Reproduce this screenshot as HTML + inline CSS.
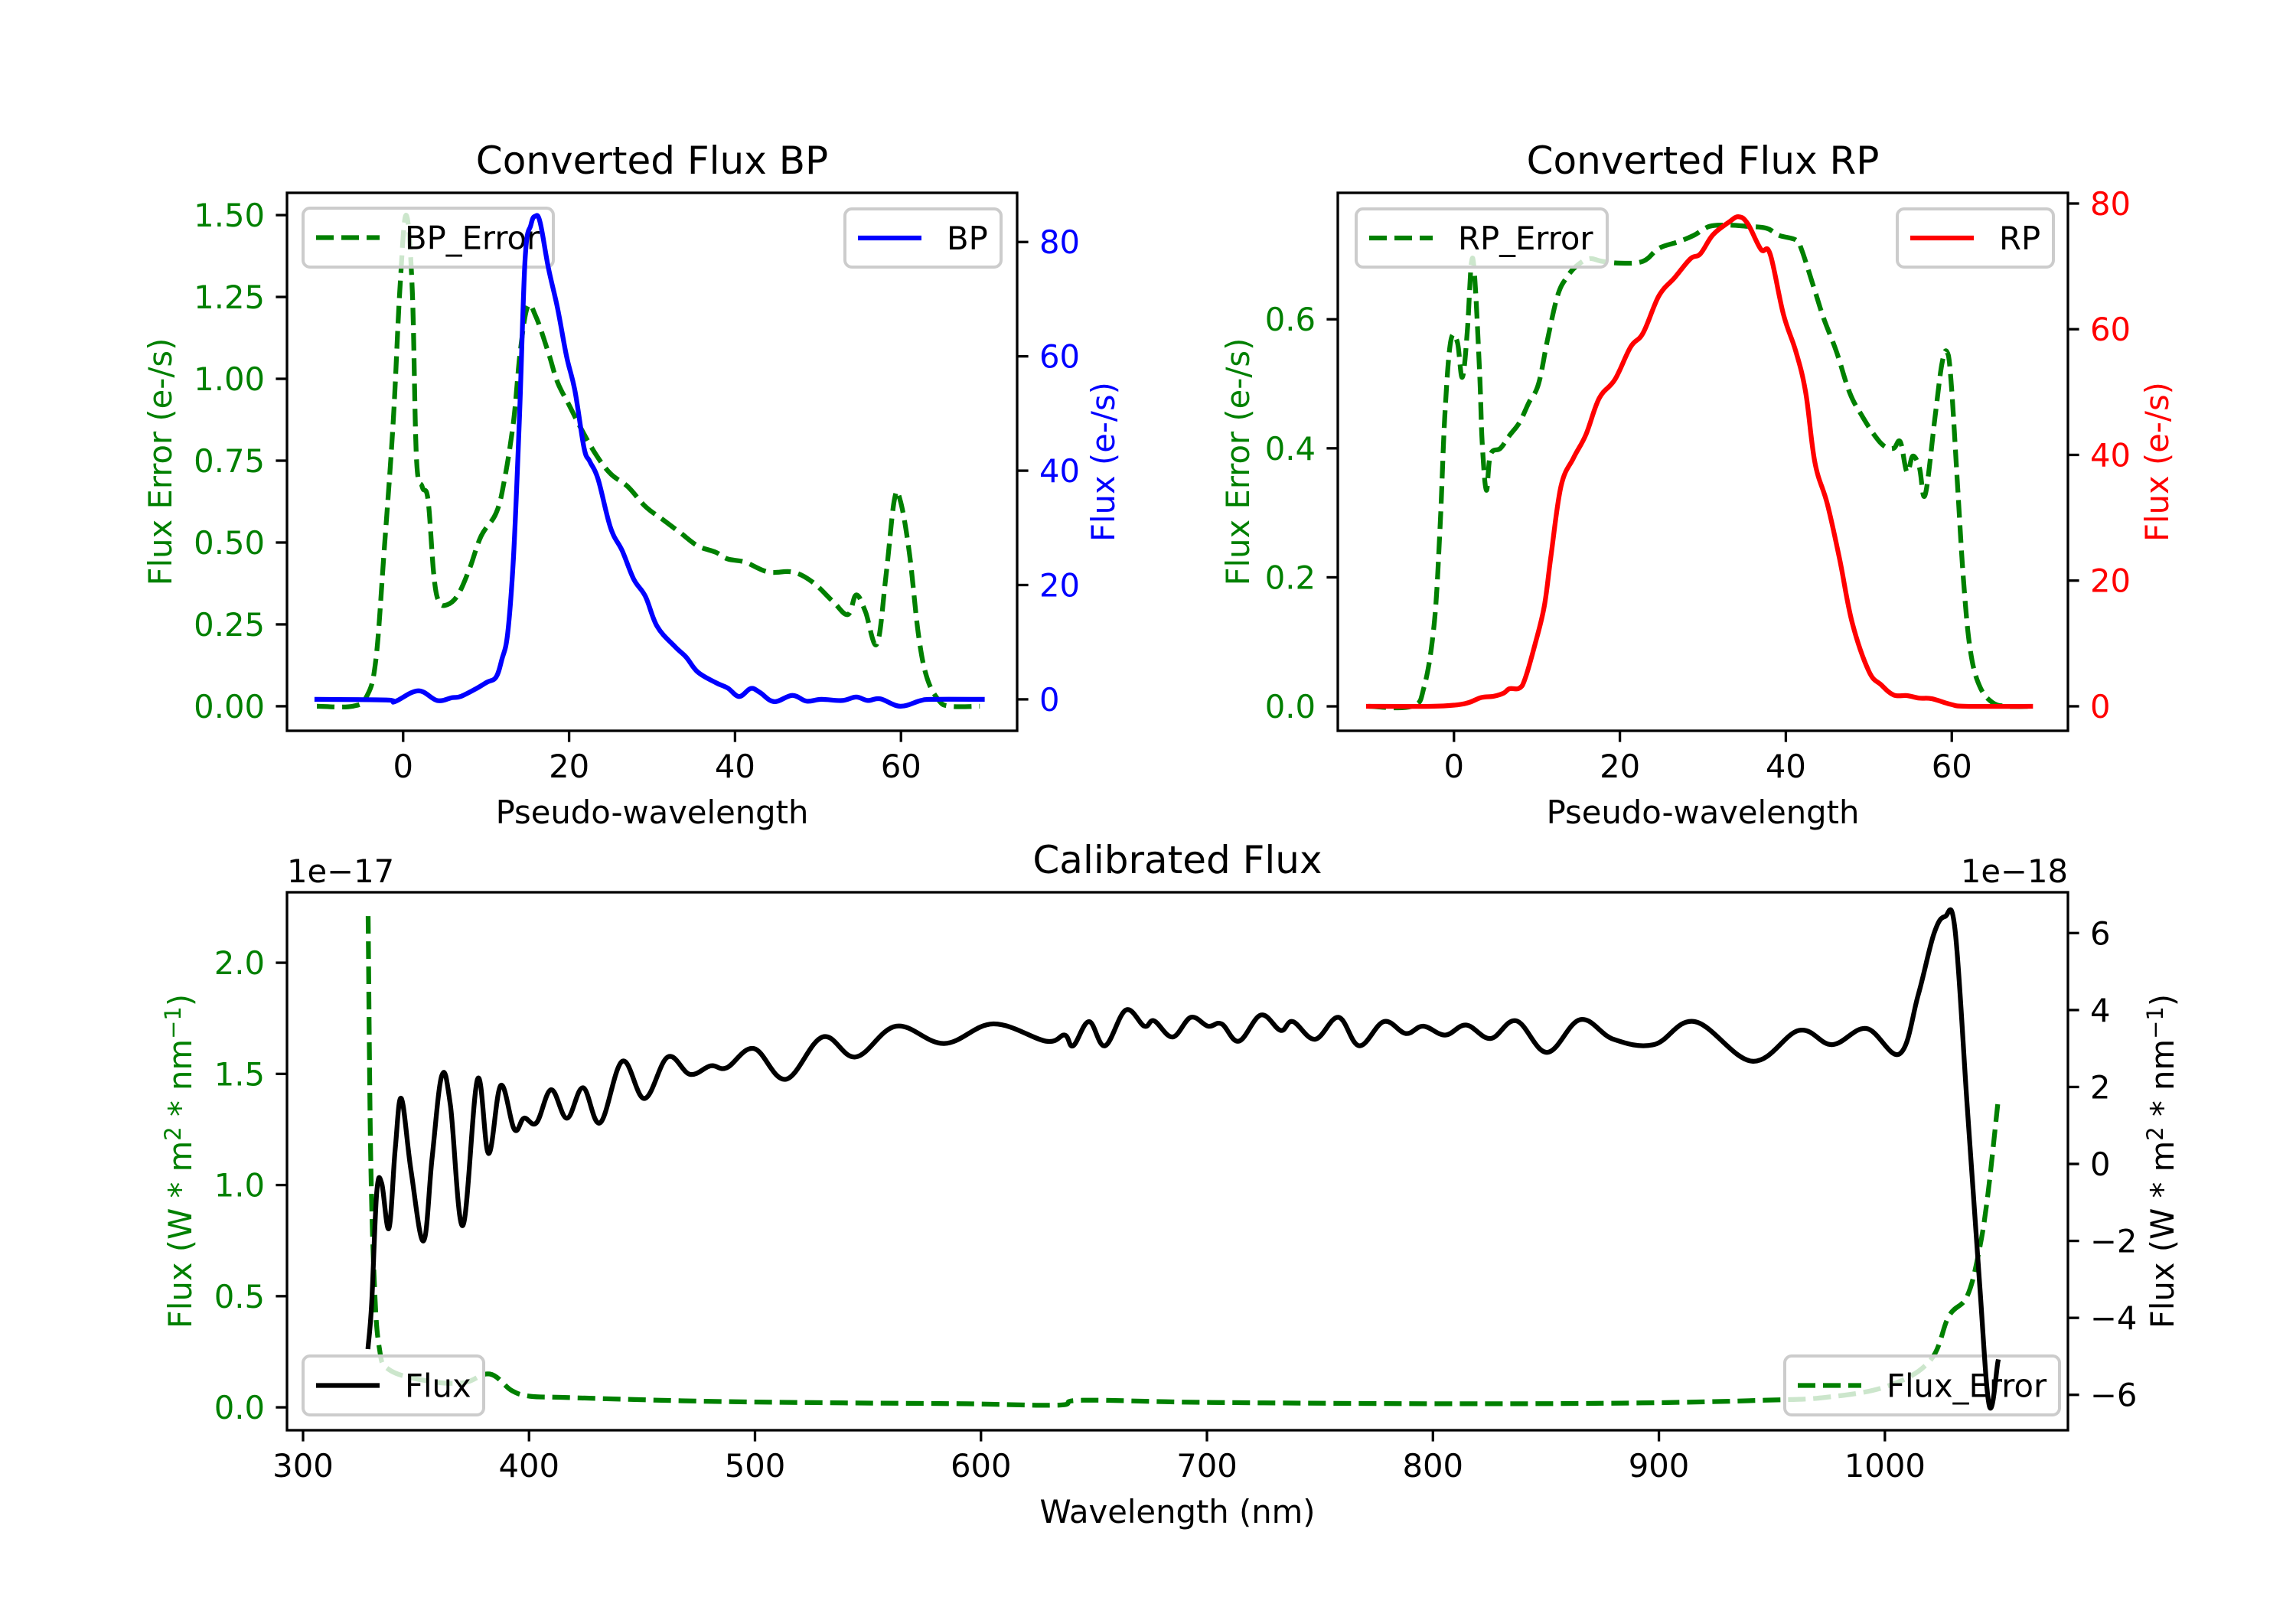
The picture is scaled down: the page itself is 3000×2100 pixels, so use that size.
<!DOCTYPE html>
<html><head><meta charset="utf-8"><style>
html,body{margin:0;padding:0;background:#fff;}
svg{display:block;font-family:"DejaVu Sans","Liberation Sans",sans-serif;}
</style></head>
<body>
<svg id="fig" width="3000" height="2100" viewBox="0 0 3000 2100" xmlns="http://www.w3.org/2000/svg">
<rect x="0" y="0" width="3000" height="2100" fill="#fff"/>
</svg>
<script>
// ---------- data ----------
const bpX = [-10.4,-2,-1,1.8,4.1,5.9,6.9,8.7,10.1,11.2,11.9,12.6,13.3,14,14.7,15.4,15.9,16.5,17.5,18.6,19.7,20.7,21.8,22.5,23.5,25,26.4,27.8,29.2,30.6,32.7,34.1,35.5,37.7,39.1,40.5,41.9,43,44.7,46.9,48.6,50.4,52.9,54.6,56,57.5,59.9,62.4,63.8,69.8];
const bpFlux = [0,-0.1,-0.4,1.5,-0.2,0.3,0.5,1.8,3,3.9,7,11.6,25,48.5,77,83,84.5,83.5,75.5,68.5,60,54,44,41.6,38.5,30,26,21,18,12.8,9.3,7.4,4.8,2.9,2,0.5,1.9,1.2,-0.4,0.7,-0.3,0,-0.2,0.4,-0.2,0.1,-1.2,-0.2,0,0];
const bpErrX = [-10.4,-6.1,-4.4,-3.3,-2.3,-1.2,-0.4,0.35,1.1,1.6,2.3,3,3.7,4.3,5.3,6.6,8,9.4,11.2,12.2,13.3,14.1,15,16,17.5,18.6,20,21.4,23.2,25,27.1,29.2,31.3,33.4,35.5,37.7,39.1,41.2,44,46.9,49.3,51.8,53.6,54.6,55.7,57.1,58.2,59.2,59.9,61,62.1,63.1,64.5,65.9,69.5];
const bpErr = [0,0,0.03,0.14,0.47,0.87,1.27,1.5,1.27,0.76,0.67,0.63,0.4,0.32,0.31,0.34,0.42,0.52,0.59,0.69,0.87,1.08,1.22,1.19,1.08,0.99,0.92,0.85,0.77,0.71,0.67,0.61,0.57,0.53,0.49,0.47,0.45,0.44,0.41,0.41,0.38,0.32,0.28,0.34,0.29,0.19,0.40,0.63,0.63,0.47,0.22,0.09,0.02,0,0];
const rpX = [-10.3,-2.8,0.2,1.8,3.3,4.8,6,6.7,7.9,8.6,9.8,10.9,11.7,12.9,14.4,15.9,17.5,19.4,21.3,22.8,24.7,26.6,28.5,29.7,31.2,33.1,34.3,35.4,37,38.1,39.7,41.2,42.4,43.5,45,46.5,48,50,51.5,53,54.6,56.1,57.6,59.9,61.8,69.5];
const rpFlux = [0,0,0.2,0.6,1.4,1.6,2.1,2.8,2.9,4.5,10,16,24,35,39.5,43.2,49,52,57.2,59.4,65.3,68.2,71.2,72,75,77,77.9,76.8,72.7,72,62.4,56.5,49.9,38.8,32.2,23.3,13.3,5.6,3.4,1.8,1.7,1.3,1.2,0.3,0,0];
const rpErrX = [-10.3,-5.1,-3.6,-2.4,-1.7,-1.1,-0.4,0.4,1,1.6,2.1,2.5,3.1,3.4,3.9,4.4,5.6,6.7,7.9,9,10.2,11.3,12.5,13.6,14.8,16.3,17.8,20.1,22.8,24.7,27,28.9,30.8,33.1,35.4,37.7,39.2,41.2,41.9,43.5,44.6,46.1,47.7,49.2,50.7,51.9,53,53.8,54.6,55.3,56.1,56.8,58,58.8,59.4,59.9,60.7,61.4,62.2,63.3,64.9,66.8,69.5];
const rpErr = [0,0,0.03,0.126,0.27,0.45,0.565,0.565,0.51,0.58,0.687,0.665,0.515,0.41,0.335,0.39,0.4,0.42,0.44,0.47,0.5,0.57,0.637,0.665,0.683,0.694,0.69,0.687,0.69,0.71,0.72,0.73,0.744,0.746,0.744,0.741,0.73,0.723,0.708,0.644,0.6,0.55,0.486,0.45,0.42,0.403,0.4,0.41,0.363,0.388,0.37,0.328,0.45,0.53,0.55,0.507,0.342,0.198,0.09,0.033,0.006,0,0];
const wlX = [328.8,330.4,332.6,334.8,338,340.8,343.5,347.8,353.3,357.1,361.4,365.2,370.7,377.2,382.1,387.5,393.5,397.8,403.3,409.8,416.8,423.9,431.5,441.3,451.1,461.4,471.2,480.4,487.5,499.5,513.6,529.9,544.6,562.5,583.7,605.4,628.8,637,640.8,647.8,654.9,664.1,672.3,676.6,684.8,692.9,700.5,706.5,714.1,723.9,732.6,738,747.8,758.2,767.4,778.3,788,795.7,805.4,814.7,825.5,836.9,850.5,865.2,879.9,897.8,915.8,941.3,962,976.6,991.8,1006.5,1014.7,1021.7,1026.6,1031,1036.4,1041.8,1046.2,1050];
const calFlux = [-4.75,-3.6,-0.75,-0.5,-1.67,0.39,1.7,-0.18,-2.0,0.16,2.3,1.53,-1.6,2.2,0.27,2.04,0.9,1.19,1.07,1.93,1.19,1.98,1.07,2.67,1.7,2.78,2.33,2.55,2.5,3.0,2.2,3.3,2.78,3.58,3.13,3.64,3.19,3.35,3.07,3.7,3.07,4.0,3.58,3.72,3.3,3.81,3.58,3.64,3.19,3.87,3.47,3.7,3.24,3.81,3.07,3.7,3.39,3.58,3.35,3.61,3.26,3.72,2.9,3.75,3.24,3.1,3.7,2.67,3.47,3.1,3.52,2.86,4.38,5.98,6.43,6.1,1.53,-3.03,-6.28,-5.14];
const wlErrX = [328.8,329.9,331.5,333.7,338,354.3,370.7,382.6,392.4,400.5,414.1,446.7,484.8,539.1,593.5,634.2,645.1,702.2,810.9,892.4,946.7,973.9,1001,1020,1028.3,1036.4,1041.8,1045.6,1050];
const calErr = [2.21,1.16,0.57,0.27,0.17,0.12,0.11,0.15,0.075,0.05,0.045,0.035,0.026,0.02,0.016,0.01,0.032,0.022,0.016,0.02,0.032,0.045,0.095,0.21,0.41,0.5,0.71,0.96,1.37];
const bpXTicks = [0,20,40,60];
const bpLeftTicks = [0,0.25,0.5,0.75,1.0,1.25,1.5];
const bpLeftLabels = ["0.00","0.25","0.50","0.75","1.00","1.25","1.50"];
const fluxRightTicks = [0,20,40,60,80];
const rpLeftTicks = [0,0.2,0.4,0.6];
const rpLeftLabels = ["0.0","0.2","0.4","0.6"];
const wlTicks = [300,400,500,600,700,800,900,1000];
const calLeftTicks = [0,0.5,1.0,1.5,2.0];
const calLeftLabels = ["0.0","0.5","1.0","1.5","2.0"];
const calRightTicks = [-6,-4,-2,0,2,4,6];
const calRightLabels = ["\u22126","\u22124","\u22122","0","2","4","6"];

// ---------- drawing ----------
const NS = "http://www.w3.org/2000/svg";
const fig = document.getElementById('fig');
function el(tag, attrs, parent){
  const e = document.createElementNS(NS, tag);
  for (const k in attrs) e.setAttribute(k, attrs[k]);
  (parent||fig).appendChild(e);
  return e;
}
const FS = 41.7;
function lin(d0,d1,p0,p1){return v => p0 + (v-d0)*(p1-p0)/(d1-d0);}

function smoothPath(P){
  let d = 'M' + P[0][0].toFixed(1) + ',' + P[0][1].toFixed(1);
  const t = 0.18;
  for (let i=0;i<P.length-1;i++){
    const p0 = P[Math.max(0,i-1)], p1 = P[i], p2 = P[i+1], p3 = P[Math.min(P.length-1,i+2)];
    const c1x = p1[0] + (p2[0]-p0[0])*t, c1y = p1[1] + (p2[1]-p0[1])*t;
    const c2x = p2[0] - (p3[0]-p1[0])*t, c2y = p2[1] - (p3[1]-p1[1])*t;
    d += ' C' + c1x.toFixed(1)+','+c1y.toFixed(1)+' '+c2x.toFixed(1)+','+c2y.toFixed(1)+' '+p2[0].toFixed(1)+','+p2[1].toFixed(1);
  }
  return d;
}
function series(xs, ys, sx, sy, color, dashed, name){
  const P = xs.map((x,i)=>[sx(x), sy(ys[i])]);
  const p = el('path',{d:smoothPath(P),fill:'none',stroke:color,'stroke-width':6.25,'stroke-linejoin':'round','stroke-linecap': dashed?'butt':'square'});
  if (dashed) p.setAttribute('stroke-dasharray','23 10');
  
  
  return p;
}
function legend(x, y, w, h, label, color, dashed, name){
  const g = el('g',{});
  
  
  el('rect',{x:x,y:y,width:w,height:h,rx:9,fill:'#fff','fill-opacity':0.8,stroke:'#cccccc','stroke-width':4},g);
  const ly = y + h/2;
  const l = el('line',{x1:x+17,y1:ly,x2:x+100,y2:ly,stroke:color,'stroke-width':6.25},g);
  if (dashed) l.setAttribute('stroke-dasharray','23 10');
  const t = el('text',{x:x+133,y:ly+15,'font-size':FS,fill:'#000'},g);
  t.textContent = label;
  return g;
}
function text(x,y,str,opts,name){
  const t = el('text',Object.assign({x:x,y:y,'font-size':FS,fill:'#000'},opts||{}));
  t.textContent = str;
  
  
  return t;
}
function xTicks(ticks, labels, sx, bottom, name){
  ticks.forEach((v,i)=>{
    const x = sx(v);
    el('line',{x1:x,y1:bottom,x2:x,y2:bottom+14.6,stroke:'#000','stroke-width':3.3});
    text(x, bottom+29+32, labels[i], {'text-anchor':'middle'}, name+'-'+labels[i]);
  });
}
function yTicks(ticks, labels, sy, xEdge, side, color, name){
  ticks.forEach((v,i)=>{
    const y = sy(v);
    const dir = side==='left'?-1:1;
    el('line',{x1:xEdge,y1:y,x2:xEdge+dir*14.6,y2:y,stroke:'#000','stroke-width':3.3});
    text(xEdge+dir*29, y+15, labels[i], {'text-anchor': side==='left'?'end':'start', fill:color}, name+'-'+labels[i]);
  });
}
function frame(l,t,r,b,name){
  const f = el('rect',{x:l,y:t,width:r-l,height:b-t,fill:'none',stroke:'#000','stroke-width':3.3});
  
  
}
function vlabel(x,y,str,color,name,html){
  const t = el('text',{x:0,y:0,'font-size':FS,fill:color,'text-anchor':'middle',transform:`translate(${x},${y}) rotate(-90)`});
  if (html) t.innerHTML = html; else t.textContent = str;
  
  
}

// Panel 1: BP
(function(){
  const L=375,R=1329,T=252,B=955;
  const sx = lin(-14,74,L,R), syl = lin(-0.075,1.568,B,T), syr = lin(-5.5,88.6,B,T);
  series(bpErrX, bpErr, sx, syl, '#008000', true, 'bp-error-line');
  legend(396,272,327,77,'BP_Error','#008000',true,'bp-error-legend');
  series(bpX, bpFlux, sx, syr, '#0000ff', false, 'bp-flux-line');
  legend(1104,273,204,76,'BP','#0000ff',false,'bp-legend');
  frame(L,T,R,B,'bp-axes-frame');
  xTicks(bpXTicks, bpXTicks.map(String), sx, B, 'bp-x-tick');
  yTicks(bpLeftTicks, bpLeftLabels, syl, L, 'left', '#008000', 'bp-left-tick');
  yTicks(fluxRightTicks, fluxRightTicks.map(String), syr, R, 'right', '#0000ff', 'bp-right-tick');
  text((L+R)/2, 227, 'Converted Flux BP', {'text-anchor':'middle','font-size':50}, 'bp-title');
  text((L+R)/2, 1076, 'Pseudo-wavelength', {'text-anchor':'middle'}, 'bp-x-axis-title');
  vlabel(224,(T+B)/2,'Flux Error (e-/s)','#008000','bp-left-axis-title');
  vlabel(1456,(T+B)/2,'Flux (e-/s)','#0000ff','bp-right-axis-title');
})();

// Panel 2: RP
(function(){
  const L=1748,R=2702,T=252,B=955;
  const sx = lin(-14,74,L,R), syl = lin(-0.0379,0.796,B,T), syr = lin(-3.9,81.7,B,T);
  series(rpErrX, rpErr, sx, syl, '#008000', true, 'rp-error-line');
  legend(1772,273,328,76,'RP_Error','#008000',true,'rp-error-legend');
  series(rpX, rpFlux, sx, syr, '#ff0000', false, 'rp-flux-line');
  legend(2479,273,204,76,'RP','#ff0000',false,'rp-legend');
  frame(L,T,R,B,'rp-axes-frame');
  xTicks(bpXTicks, bpXTicks.map(String), sx, B, 'rp-x-tick');
  yTicks(rpLeftTicks, rpLeftLabels, syl, L, 'left', '#008000', 'rp-left-tick');
  yTicks(fluxRightTicks, fluxRightTicks.map(String), syr, R, 'right', '#ff0000', 'rp-right-tick');
  text((L+R)/2, 227, 'Converted Flux RP', {'text-anchor':'middle','font-size':50}, 'rp-title');
  text((L+R)/2, 1076, 'Pseudo-wavelength', {'text-anchor':'middle'}, 'rp-x-axis-title');
  vlabel(1632,(T+B)/2,'Flux Error (e-/s)','#008000','rp-left-axis-title');
  vlabel(2833,(T+B)/2,'Flux (e-/s)','#ff0000','rp-right-axis-title');
})();

// Panel 3: Calibrated
(function(){
  const L=375,R=2702,T=1166,B=1869;
  const sx = lin(292.9,1081,L,R), syl = lin(-0.103,2.317,B,T), syr = lin(-6.92,7.06,B,T);
  series(wlErrX, calErr, sx, syl, '#008000', true, 'calibrated-error-line');
  legend(2332,1772,359,77,'Flux_Error','#008000',true,'flux-error-legend');
  series(wlX, calFlux, sx, syr, '#000000', false, 'calibrated-flux-line');
  legend(396,1772,236,77,'Flux','#000000',false,'flux-legend');
  frame(L,T,R,B,'calibrated-axes-frame');
  xTicks(wlTicks, wlTicks.map(String), sx, B, 'cal-x-tick');
  yTicks(calLeftTicks, calLeftLabels, syl, L, 'left', '#008000', 'cal-left-tick');
  yTicks(calRightTicks, calRightLabels, syr, R, 'right', '#000', 'cal-right-tick');
  text((L+R)/2, 1141, 'Calibrated Flux', {'text-anchor':'middle','font-size':50}, 'calibrated-title');
  text(L, 1153, '1e\u221217', {'text-anchor':'start'}, 'left-offset-text');
  text(R, 1153, '1e\u221218', {'text-anchor':'end'}, 'right-offset-text');
  text((L+R)/2, 1990, 'Wavelength (nm)', {'text-anchor':'middle'}, 'cal-x-axis-title');
  const lab = 'Flux (W * m<tspan dy="-14" font-size="29">2</tspan><tspan dy="14"> * nm</tspan><tspan dy="-14" font-size="29">\u22121</tspan><tspan dy="14">)</tspan>';
  vlabel(250,(T+B)/2,'','#008000','cal-left-axis-title',lab);
  vlabel(2840,(T+B)/2,'','#000','cal-right-axis-title',lab);
})();
</script>
</body></html>
